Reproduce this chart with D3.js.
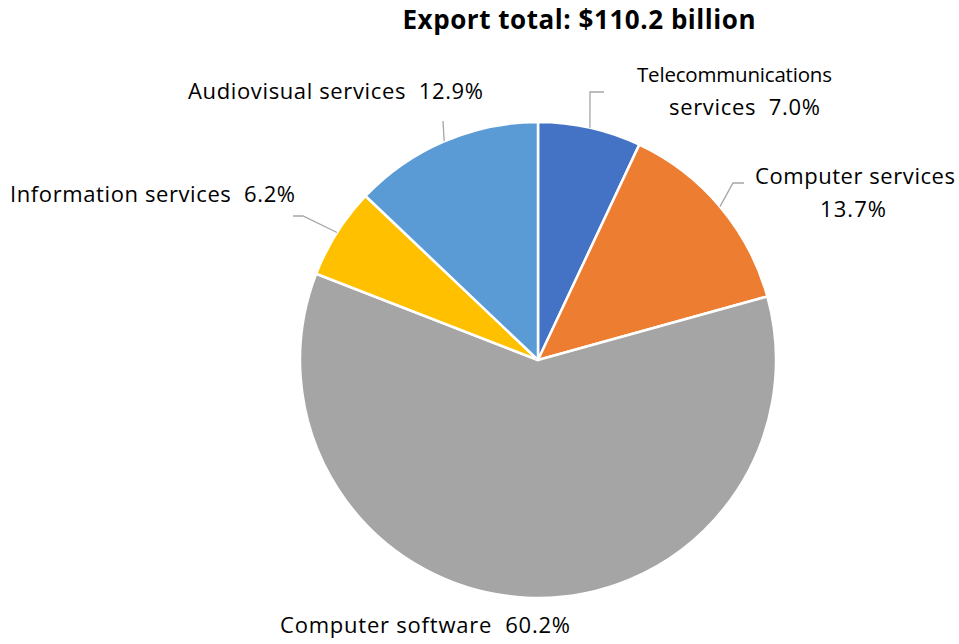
<!DOCTYPE html>
<html>
<head>
<meta charset="utf-8">
<script src="https://cdn.jsdelivr.net/npm/d3@7"></script>
<style>
  html, body { margin: 0; padding: 0; background: #fff; }
  svg text { font-family: "Open Sans", Lato, sans-serif; fill: #000; }
</style>
</head>
<body>
<svg id="chart" width="959" height="644"></svg>
<script>
// Service export shares (percent of total)
const categories = [
  "Telecommunications services",
  "Computer services",
  "Computer software",
  "Information services",
  "Audiovisual services"
];
const shares = [7.0, 13.7, 60.2, 6.2, 12.9];
const colors = ["#4472C4", "#ED7D31", "#A5A5A5", "#FFC000", "#5B9BD5"];
const title = "Export total: $110.2 billion";

// Label text lines per slice
const labelLines = [
  ["Telecommunications", "services  7.0%"],
  ["Computer services", "13.7%"],
  ["Computer software  60.2%"],
  ["Information services  6.2%"],
  ["Audiovisual services  12.9%"]
];
// Label placement per line: x, baseline y, width, font size; plus alignment and leader elbow/end
const labelLayout = [
  { anchor: "middle", lines: [[734.5, 82, 195, 20.5], [744.5, 115, 151, 22]], elbow: [590, 92], end: [604, 92] },
  { anchor: "middle", lines: [[855, 184, 200, 22], [853, 217, 66, 22]], elbow: [733, 183], end: [744, 183] },
  { anchor: "middle", lines: [[425, 633, 290, 22]], elbow: null },
  { anchor: "end", lines: [[295, 202, 285, 22]], elbow: [303, 216], end: [293, 216] },
  { anchor: "end", lines: [[483, 99, 295, 22]], elbow: [443, 121], end: [443, 121] }
];

const svg = d3.select("#chart");
const cx = 538, cy = 360, r = 238;

svg.append("text")
  .attr("x", 579).attr("y", 29)
  .attr("text-anchor", "middle")
  .attr("font-size", 26)
  .attr("font-weight", "bold")
  .attr("textLength", 353)
  .attr("lengthAdjust", "spacing")
  .text(title);

const data = categories.map((c, i) => ({ name: c, value: shares[i], color: colors[i], i }));

const pie = d3.pie().value(d => d.value).sort(null);
const arcs = pie(data);
const arc = d3.arc().innerRadius(0).outerRadius(r);

const g = svg.append("g").attr("transform", `translate(${cx},${cy})`);

g.selectAll("path.slice")
  .data(arcs)
  .join("path")
  .attr("class", "slice")
  .attr("d", arc)
  .attr("fill", d => d.data.color)
  .attr("stroke", "#fff")
  .attr("stroke-width", 2.5)
  .attr("stroke-linejoin", "round");

// Leader lines from each slice's mid-angle on the rim
arcs.forEach(a => {
  const L = labelLayout[a.data.i];
  if (!L.elbow) return;
  const mid = (a.startAngle + a.endAngle) / 2;
  const sx = cx + r * Math.sin(mid), sy = cy - r * Math.cos(mid);
  svg.append("polyline")
    .attr("points", [[sx, sy], L.elbow, L.end].map(p => p.join(",")).join(" "))
    .attr("fill", "none")
    .attr("stroke", "#A6A6A6")
    .attr("stroke-width", 1.3);
});

// Labels
arcs.forEach(a => {
  const L = labelLayout[a.data.i];
  labelLines[a.data.i].forEach((line, k) => {
    const [x, y, w, fs] = L.lines[k];
    svg.append("text")
      .attr("x", x).attr("y", y)
      .attr("text-anchor", L.anchor)
      .attr("font-size", fs)
      .attr("textLength", w)
      .attr("lengthAdjust", "spacing")
      .style("white-space", "pre")
      .text(line);
  });
});
</script>
</body>
</html>
